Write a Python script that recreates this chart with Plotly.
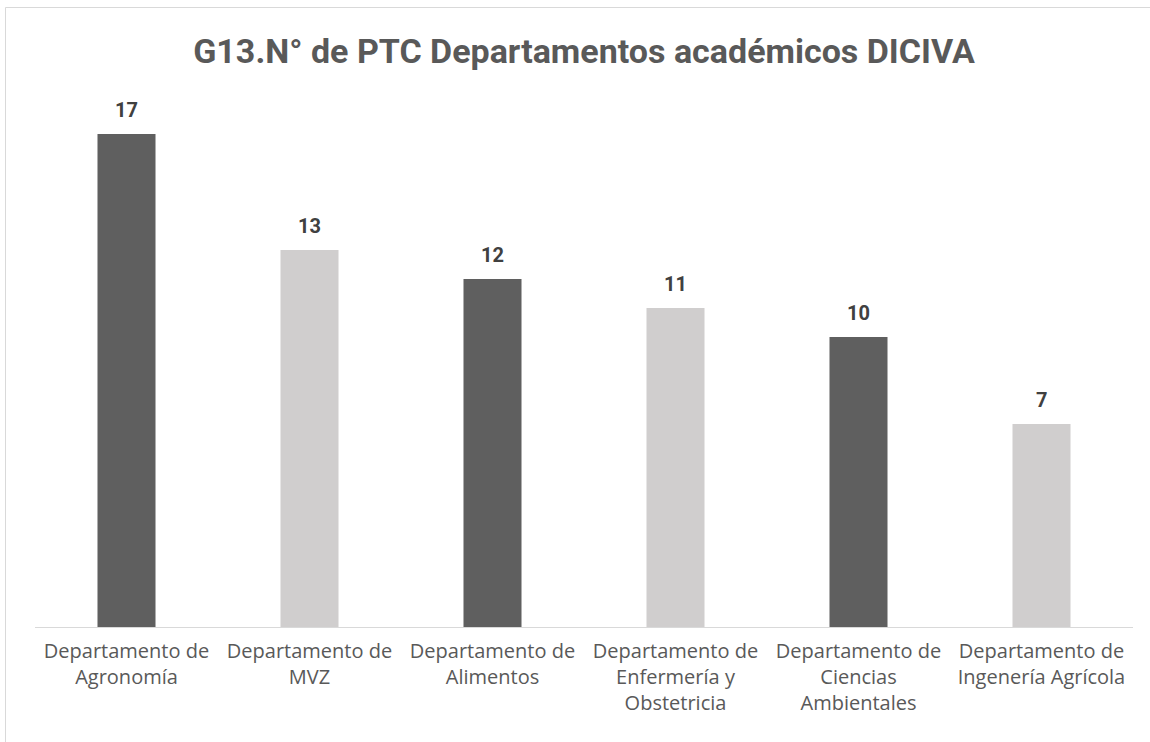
import plotly.graph_objects as go

categories = [
    "Departamento de<br>Agronomía",
    "Departamento de<br>MVZ",
    "Departamento de<br>Alimentos",
    "Departamento de<br>Enfermería y<br>Obstetricia",
    "Departamento de<br>Ciencias<br>Ambientales",
    "Departamento de<br>Ingenería Agrícola",
]
values = [17, 13, 12, 11, 10, 7]
bar_colors = ["#5f5f5f", "#d0cece", "#5f5f5f", "#d0cece", "#5f5f5f", "#d0cece"]
title_text = "G13.N° de PTC Departamentos académicos DICIVA"

W, H = 1150, 742
L, T, PW, PH = 35, 47, 1098, 580

fig = go.Figure(go.Bar(x=categories, y=values, marker=dict(color=bar_colors, line=dict(width=0))))

for c, v in zip(categories, values):
    fig.add_annotation(x=c, y=v, text=f"<b>{v}</b>", showarrow=False,
                       yanchor="bottom", yshift=10,
                       font=dict(family="Roboto", size=20, color="#404040"))

bx = (5.5 - L) / PW
by = (T + PH - 7.5) / PH

fig.update_layout(
    width=W, height=H,
    margin=dict(l=L, r=W - L - PW, t=T, b=H - T - PH),
    paper_bgcolor="white", plot_bgcolor="white",
    bargap=0.683,
    showlegend=False,
    title=dict(text=f"<b>{title_text}</b>", x=0.5, xref="paper", xanchor="center",
               y=(H - 51) / H, yref="container", yanchor="middle",
               font=dict(family="Roboto", size=34, color="#595959")),
    xaxis=dict(showline=True, linecolor="#d9d9d9", linewidth=1, ticks="",
               showgrid=False, tickfont=dict(family="Open Sans", size=20, color="#595959"),
               ticklabelstandoff=6),
    yaxis=dict(range=[0, 20], visible=False, showgrid=False),
    shapes=[
        dict(type="line", xref="paper", yref="paper", x0=bx, x1=1.2, y0=by, y1=by,
             line=dict(color="#d9d9d9", width=1)),
        dict(type="line", xref="paper", yref="paper", x0=bx, x1=bx, y0=by, y1=-0.3,
             line=dict(color="#d9d9d9", width=1)),
    ],
)

fig.write_html("out.html", config={"displayModeBar": False},
               post_script="document.body.style.margin='0px';")
